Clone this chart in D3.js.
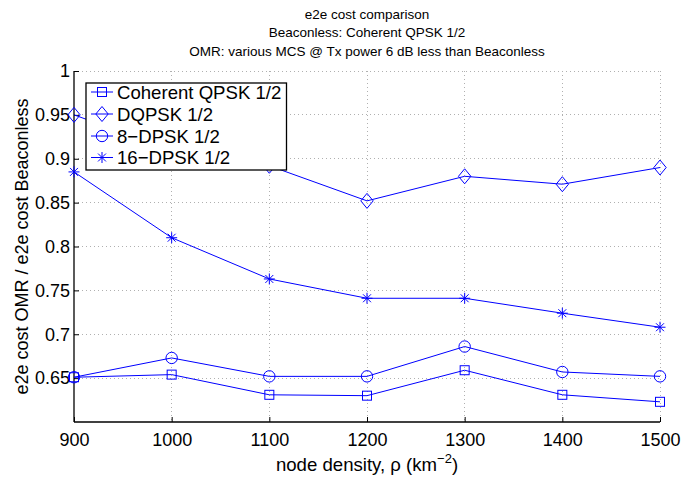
<!DOCTYPE html>
<html><head><meta charset="utf-8">
<script src="https://cdn.jsdelivr.net/npm/d3@7"></script>
<style>body{margin:0;background:#fff}svg{display:block}text{font-family:"Liberation Sans",Arial,sans-serif}</style>
</head><body><svg id="c" width="684" height="477"></svg>
<script>
const xValues = [900, 1000, 1100, 1200, 1300, 1400, 1500];
const coherentQPSK = [0.651, 0.654, 0.631, 0.630, 0.659, 0.631, 0.623];
const dqpsk = [0.950, 0.910, 0.892, 0.852, 0.880, 0.871, 0.890];
const dpsk8 = [0.651, 0.673, 0.652, 0.652, 0.686, 0.657, 0.652];
const dpsk16 = [0.885, 0.810, 0.763, 0.741, 0.741, 0.724, 0.708];
const seriesNames = ["Coherent QPSK 1/2", "DQPSK 1/2", "8\u2212DPSK 1/2", "16\u2212DPSK 1/2"];
const markerTypes = ["square", "diamond", "circle", "star"];
const xTicks = [900, 1000, 1100, 1200, 1300, 1400, 1500];
const yTicks = [0.65, 0.7, 0.75, 0.8, 0.85, 0.9, 0.95, 1];
const titleLines = ["e2e cost comparison", "Beaconless: Coherent QPSK 1/2", "OMR: various MCS @ Tx power 6 dB less than Beaconless"];

const seriesData = [coherentQPSK, dqpsk, dpsk8, dpsk16];
const svg = d3.select("#c");
const L = 74, R = 660, T = 71, B = 422;
const x = d3.scaleLinear().domain([900, 1500]).range([L, R]);
const y = d3.scaleLinear().domain([0.6, 1]).range([B, T]);
const blue = "#0000ff";

// grid
const g = svg.append("g");
g.selectAll(".gx").data(xTicks.slice(1)).enter().append("line")
  .attr("x1", d => x(d)).attr("x2", d => x(d)).attr("y1", T).attr("y2", B)
  .attr("stroke", "#b0b0b0").attr("stroke-width", 1).attr("stroke-dasharray", "1,3").attr("shape-rendering","crispEdges");
g.selectAll(".gy").data(yTicks).enter().append("line")
  .attr("x1", L).attr("x2", R).attr("y1", d => y(d)).attr("y2", d => y(d))
  .attr("stroke", "#b0b0b0").attr("stroke-width", 1).attr("stroke-dasharray", "1,3").attr("shape-rendering","crispEdges");

// axes
const xAxis = d3.axisBottom(x).tickValues(xTicks).tickSizeInner(-5).tickSizeOuter(0).tickPadding(11).tickFormat(d3.format("d"));
const yAxis = d3.axisLeft(y).tickValues(yTicks).tickSizeInner(-5).tickSizeOuter(0).tickPadding(4).tickFormat(d => d === 1 ? "1" : String(d));
const gx = svg.append("g").attr("transform", `translate(0,${B})`).call(xAxis);
const gy = svg.append("g").attr("transform", `translate(${L},0)`).call(yAxis);
[gx, gy].forEach(a => {
  a.select(".domain").attr("stroke", "#000").attr("stroke-width", 1.3);
  a.selectAll(".tick line").attr("stroke", "#000");
  a.selectAll("text").attr("font-size", 18).attr("fill", "#000").attr("font-family", '"Liberation Sans",Arial,sans-serif');
});
gy.select(".domain").attr("d", `M0,${T}V${B}`);
gx.select(".domain").attr("d", `M${L},0H${R}`);

// markers
function marker(sel, type, size) {
  const s = size || 1;
  if (type === "square") sel.append("rect").attr("x", -4.5*s).attr("y", -4.5*s).attr("width", 9*s).attr("height", 9*s);
  else if (type === "circle") sel.append("circle").attr("r", 5.7*s);
  else if (type === "diamond") sel.append("path").attr("d", `M0,${-7.5*s}L${6.2*s},0L0,${7.5*s}L${-6.2*s},0Z`);
  else if (type === "star") {
    const r = 5.5*s, r2 = r*0.72;
    sel.append("path").attr("d", `M${-r},0H${r}M0,${-r}V${r}M${-r2},${-r2}L${r2},${r2}M${-r2},${r2}L${r2},${-r2}`);
  }
}

const line = d3.line().x((d, i) => x(xValues[i])).y(d => y(d));
seriesData.forEach((vals, k) => {
  const sg = svg.append("g");
  sg.append("path").datum(vals).attr("d", line).attr("fill", "none").attr("stroke", blue).attr("stroke-width", 1);
  vals.forEach((v, i) => {
    const m = sg.append("g").attr("transform", `translate(${x(xValues[i])},${y(v)})`)
      .attr("fill", "none").attr("stroke", blue).attr("stroke-width", 1);
    marker(m, markerTypes[k]);
  });
});

// legend
const lg = svg.append("g");
lg.append("rect").attr("x", 86).attr("y", 83).attr("width", 200.5).attr("height", 87)
  .attr("fill", "#fff").attr("stroke", "#000").attr("stroke-width", 1.3);
const legY = [92, 114, 136, 157.5];
seriesNames.forEach((n, k) => {
  lg.append("line").attr("x1", 91).attr("x2", 113).attr("y1", legY[k]).attr("y2", legY[k]).attr("stroke", blue);
  const m = lg.append("g").attr("transform", `translate(102,${legY[k]})`).attr("fill", "none").attr("stroke", blue);
  marker(m, markerTypes[k]);
  lg.append("text").attr("x", 117).attr("y", legY[k]).attr("dy", "0.36em").attr("font-size", 18.6).text(n);
});

// titles
titleLines.forEach((t, i) => {
  svg.append("text").attr("x", (L + R) / 2).attr("y", 19 + i * 18.3).attr("text-anchor", "middle").attr("font-size", 13.5).text(t);
});

// axis labels
const xl = svg.append("text").attr("x", (L + R) / 2).attr("y", 471).attr("text-anchor", "middle").attr("font-size", 18.6);
xl.append("tspan").text("node density, \u03c1 (km");
xl.append("tspan").attr("dy", -8).attr("font-size", 13).text("\u22122");
xl.append("tspan").attr("dy", 8).text(")");
svg.append("text").attr("transform", `translate(22,${(T + B) / 2}) rotate(-90)`).attr("text-anchor", "middle").attr("dy", "0.35em")
  .attr("font-size", 18).text("e2e cost OMR / e2e cost Beaconless");
</script></body></html>
